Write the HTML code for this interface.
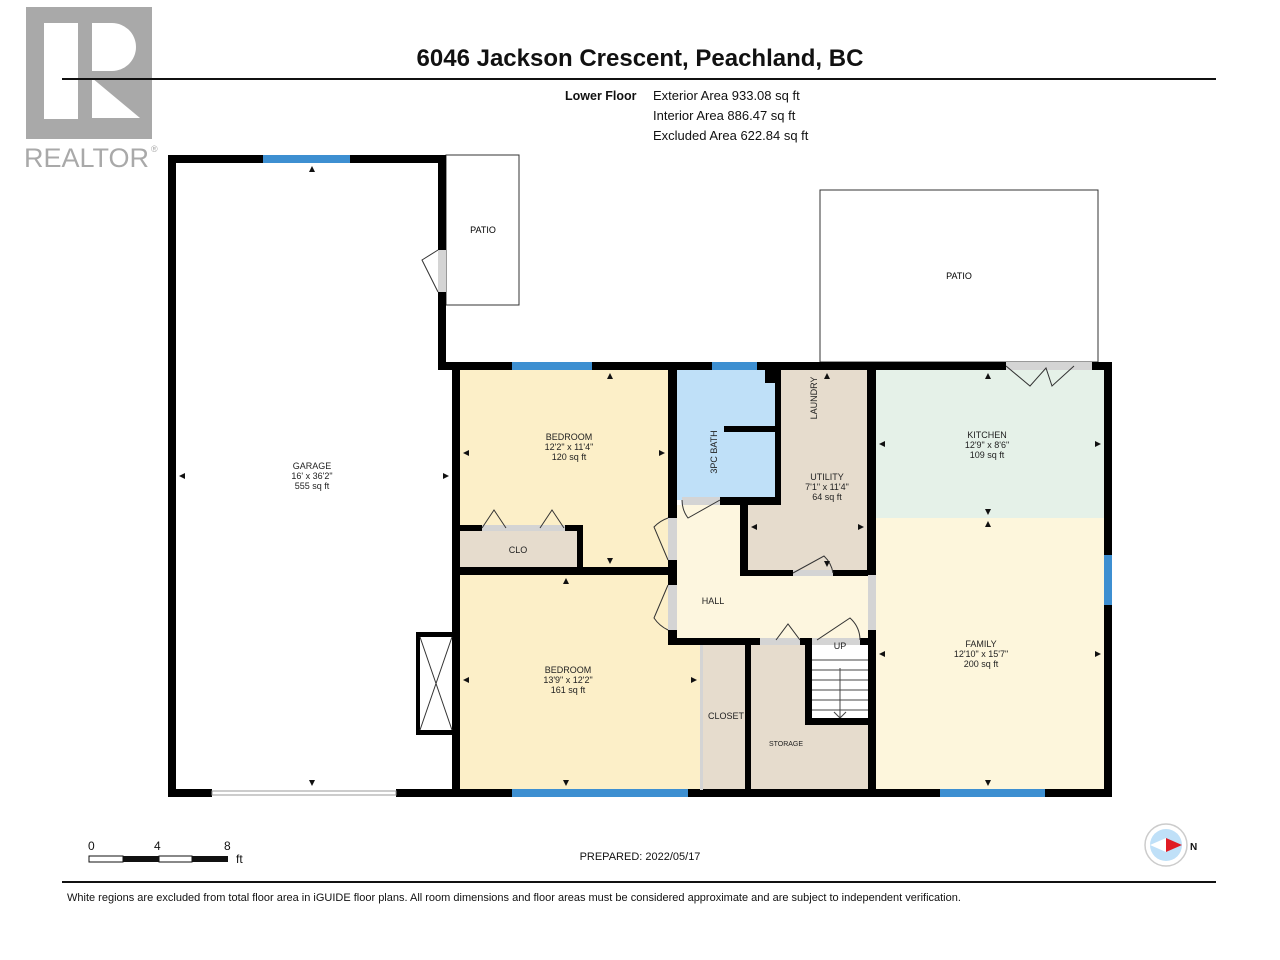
<!DOCTYPE html>
<html><head><meta charset="utf-8"><style>
html,body{margin:0;padding:0;background:#fff;}
svg{display:block;font-family:"Liberation Sans",Arial,sans-serif;}
</style></head><body>
<svg width="1280" height="960" viewBox="0 0 1280 960" xmlns="http://www.w3.org/2000/svg">
<!-- logo -->
<rect x="26" y="7" width="126" height="132" fill="#a9a9a9"/>
<rect x="44" y="23" width="34" height="96" fill="#fff"/>
<path d="M92 23 H112 A24 24 0 0 1 112 71 H92 Z" fill="#fff"/>
<path d="M92 78 L140 118 H92 Z" fill="#fff"/>
<text x="24" y="167" font-size="27" fill="#a9a9a9">REALTOR</text>
<text x="151" y="152" font-size="9" fill="#a9a9a9">®</text>
<!-- header -->
<text x="640" y="66" font-size="24" font-weight="bold" text-anchor="middle" fill="#111">6046 Jackson Crescent, Peachland, BC</text>
<rect x="62" y="78" width="1154" height="2" fill="#111"/>
<text x="565" y="100" font-size="12.5" font-weight="bold" fill="#111">Lower Floor</text>
<text x="653" y="100" font-size="13" fill="#111">Exterior Area 933.08 sq ft</text>
<text x="653" y="120" font-size="13" fill="#111">Interior Area 886.47 sq ft</text>
<text x="653" y="140" font-size="13" fill="#111">Excluded Area 622.84 sq ft</text>
<!-- patios -->
<rect x="446" y="155" width="73" height="150" fill="#fff" stroke="#333" stroke-width="1"/>
<text x="483" y="233" font-size="9" text-anchor="middle">PATIO</text>
<rect x="820" y="190" width="278" height="172" fill="#fff" stroke="#333" stroke-width="1"/>
<text x="959" y="279" font-size="9" text-anchor="middle">PATIO</text>
<!-- fills -->
<rect x="460" y="370" width="210" height="200" fill="#fcefc8"/>
<rect x="460" y="531" width="120" height="36" fill="#e6dccd"/>
<rect x="460" y="575" width="210" height="215" fill="#fcefc8"/>
<rect x="668" y="645" width="32" height="145" fill="#fcefc8"/>
<rect x="677" y="370" width="100" height="130" fill="#bfe0f8"/>
<rect x="781" y="370" width="88" height="205" fill="#e6dccd"/>
<rect x="748" y="505" width="121" height="68" fill="#e6dccd"/>
<rect x="677" y="505" width="65" height="135" fill="#fdf6df"/>
<rect x="677" y="575" width="193" height="65" fill="#fdf6df"/>
<rect x="703" y="645" width="45" height="145" fill="#e6dccd"/>
<rect x="751" y="645" width="117" height="145" fill="#e6dccd"/>
<rect x="812" y="645" width="56" height="75" fill="#fff"/>
<rect x="876" y="370" width="228" height="148" fill="#e5f1e8"/>
<rect x="876" y="518" width="228" height="272" fill="#fdf6dc"/>
<!-- stairs -->
<g stroke="#444" stroke-width="1">
<line x1="812" y1="660" x2="868" y2="660"/><line x1="812" y1="670" x2="868" y2="670"/><line x1="812" y1="680" x2="868" y2="680"/><line x1="812" y1="690" x2="868" y2="690"/><line x1="812" y1="700" x2="868" y2="700"/><line x1="812" y1="710" x2="868" y2="710"/>
<line x1="840" y1="668" x2="840" y2="718"/><path d="M834 712 L840 718 L846 712" fill="none"/>
</g>
<!-- walls -->
<g fill="#000">
<rect x="168" y="155" width="8" height="642"/>
<rect x="168" y="155" width="278" height="8"/>
<rect x="438" y="155" width="8" height="215"/>
<rect x="438" y="362" width="674" height="8"/>
<rect x="1104" y="362" width="8" height="435"/>
<rect x="168" y="789" width="44" height="8"/>
<rect x="396" y="789" width="716" height="8"/>
<rect x="452" y="362" width="8" height="435"/>
<rect x="416" y="632" width="36" height="5"/><rect x="416" y="730" width="36" height="5"/>
<rect x="416" y="632" width="4" height="103"/>
<rect x="460" y="525" width="22" height="6"/><rect x="565" y="525" width="18" height="6"/>
<rect x="577" y="525" width="6" height="45"/>
<rect x="460" y="567" width="217" height="8"/>
<rect x="668" y="370" width="9" height="148"/>
<rect x="668" y="560" width="9" height="25"/>
<rect x="668" y="630" width="9" height="15"/>
<rect x="668" y="638" width="92" height="7"/>
<rect x="720" y="497" width="61" height="8"/>
<rect x="775" y="370" width="6" height="135"/>
<rect x="765" y="370" width="16" height="13"/>
<rect x="724" y="426" width="54" height="6"/>
<rect x="740" y="505" width="8" height="70"/>
<rect x="740" y="570" width="53" height="6"/>
<rect x="833" y="570" width="43" height="6"/>
<rect x="867" y="370" width="9" height="205"/>
<rect x="868" y="630" width="8" height="167"/>
<rect x="745" y="645" width="6" height="145"/>
<rect x="800" y="638" width="12" height="7"/>
<rect x="805" y="638" width="7" height="87"/>
<rect x="805" y="718" width="63" height="7"/>
<rect x="860" y="638" width="16" height="7"/>
</g>
<!-- door gaps / light wall segments -->
<g fill="#d4d4d4">
<rect x="668" y="518" width="9" height="42"/><rect x="668" y="585" width="9" height="45"/>
<rect x="682" y="497" width="38" height="8"/>
<rect x="793" y="570" width="40" height="6"/>
<rect x="868" y="575" width="8" height="55"/>
<rect x="760" y="638" width="40" height="7"/>
<rect x="812" y="638" width="48" height="7"/>
<rect x="482" y="525" width="83" height="6"/>
<rect x="700" y="645" width="3" height="145"/>
<rect x="1006" y="362" width="86" height="8"/>
<rect x="438" y="250" width="8" height="42"/>
</g>
<rect x="212" y="791" width="184" height="4" fill="#fff" stroke="#999" stroke-width="1"/>
<!-- windows -->
<g fill="#3d8fd1">
<rect x="263" y="155" width="87" height="8"/>
<rect x="512" y="362" width="80" height="8"/>
<rect x="712" y="362" width="45" height="8"/>
<rect x="512" y="789" width="176" height="8"/>
<rect x="940" y="789" width="105" height="8"/>
<rect x="1104" y="555" width="8" height="50"/>
</g>
<path d="M420 637 L452 730 M452 637 L420 730" stroke="#333" stroke-width="1"/>
<!-- door swings -->
<g fill="none" stroke="#333" stroke-width="1">
<path d="M438 250 L422 260 L438 292"/>
<path d="M482 528 L494 510 L506 528 M540 528 L552 510 L564 528"/>
<path d="M668 560 L654 527 A35 35 0 0 1 668 518"/>
<path d="M668 585 L654 618 A35 35 0 0 0 668 630"/>
<path d="M720 500 L688 518 A30 30 0 0 1 682 500"/>
<path d="M793 573 L824 556 A30 30 0 0 1 833 573"/>
<path d="M776 640 L788 624 L800 640"/>
<path d="M817 640 L850 618 A30 30 0 0 1 860 640"/>
<path d="M1006 366 L1030 386 L1046 368 L1052 386 L1074 366"/>
</g>
<!-- labels -->
<g font-size="9" text-anchor="middle" fill="#222">
<text x="312" y="469">GARAGE</text><text x="312" y="479">16' x 36'2"</text><text x="312" y="489">555 sq ft</text>
<text x="569" y="440">BEDROOM</text><text x="569" y="450">12'2" x 11'4"</text><text x="569" y="460">120 sq ft</text>
<text x="518" y="553">CLO</text>
<text x="568" y="673">BEDROOM</text><text x="568" y="683">13'9" x 12'2"</text><text x="568" y="693">161 sq ft</text>
<text x="713" y="604">HALL</text>
<text x="726" y="719">CLOSET</text>
<text x="786" y="746" font-size="7">STORAGE</text>
<text x="840" y="649">UP</text>
<text x="827" y="480">UTILITY</text><text x="827" y="490">7'1" x 11'4"</text><text x="827" y="500">64 sq ft</text>
<text x="987" y="438">KITCHEN</text><text x="987" y="448">12'9" x 8'6"</text><text x="987" y="458">109 sq ft</text>
<text x="981" y="647">FAMILY</text><text x="981" y="657">12'10" x 15'7"</text><text x="981" y="667">200 sq ft</text>
<text transform="translate(717,452) rotate(-90)">3PC BATH</text>
<text transform="translate(817,398) rotate(-90)">LAUNDRY</text>
</g>
<!-- dim arrows -->
<g fill="#111">
<path d="M312 166 l-3 6 h6z"/><path d="M312 786 l-3 -6 h6z"/>
<path d="M179 476 l6 -3 v6z"/><path d="M449 476 l-6 -3 v6z"/>
<path d="M610 373 l-3 6 h6z"/><path d="M610 564 l-3 -6 h6z"/>
<path d="M463 453 l6 -3 v6z"/><path d="M665 453 l-6 -3 v6z"/>
<path d="M566 578 l-3 6 h6z"/><path d="M566 786 l-3 -6 h6z"/>
<path d="M463 680 l6 -3 v6z"/><path d="M697 680 l-6 -3 v6z"/>
<path d="M827 373 l-3 6 h6z"/><path d="M827 567 l-3 -6 h6z"/>
<path d="M751 527 l6 -3 v6z"/><path d="M864 527 l-6 -3 v6z"/>
<path d="M988 373 l-3 6 h6z"/><path d="M988 515 l-3 -6 h6z"/>
<path d="M879 444 l6 -3 v6z"/><path d="M1101 444 l-6 -3 v6z"/>
<path d="M988 521 l-3 6 h6z"/><path d="M988 786 l-3 -6 h6z"/>
<path d="M879 654 l6 -3 v6z"/><path d="M1101 654 l-6 -3 v6z"/>
</g>
<!-- scale -->
<g font-size="12" fill="#111">
<text x="88" y="850">0</text><text x="154" y="850">4</text><text x="224" y="850">8</text><text x="236" y="863">ft</text>
</g>
<rect x="89" y="856" width="34" height="6" fill="#fff" stroke="#111" stroke-width="1"/>
<rect x="123" y="856" width="36" height="6" fill="#111"/>
<rect x="159" y="856" width="33" height="6" fill="#fff" stroke="#111" stroke-width="1"/>
<rect x="192" y="856" width="36" height="6" fill="#111"/>
<text x="640" y="860" font-size="11" text-anchor="middle" fill="#111">PREPARED: 2022/05/17</text>
<!-- compass -->
<circle cx="1166" cy="845" r="21" fill="#fff" stroke="#ccc" stroke-width="1.5"/>
<circle cx="1166" cy="845" r="16" fill="#bfe0f8"/>
<path d="M1150 845 L1166 838 L1166 852Z" fill="#fff"/>
<path d="M1182 845 L1166 838 L1166 852Z" fill="#e01b24"/>
<text x="1190" y="850" font-size="10" font-weight="bold" fill="#111">N</text>
<rect x="62" y="881" width="1154" height="2" fill="#111"/>
<text x="67" y="901" font-size="11" fill="#111">White regions are excluded from total floor area in iGUIDE floor plans. All room dimensions and floor areas must be considered approximate and are subject to independent verification.</text>
<rect x="62" y="78" width="110" height="2" fill="#111"/>
</svg>
</body></html>
